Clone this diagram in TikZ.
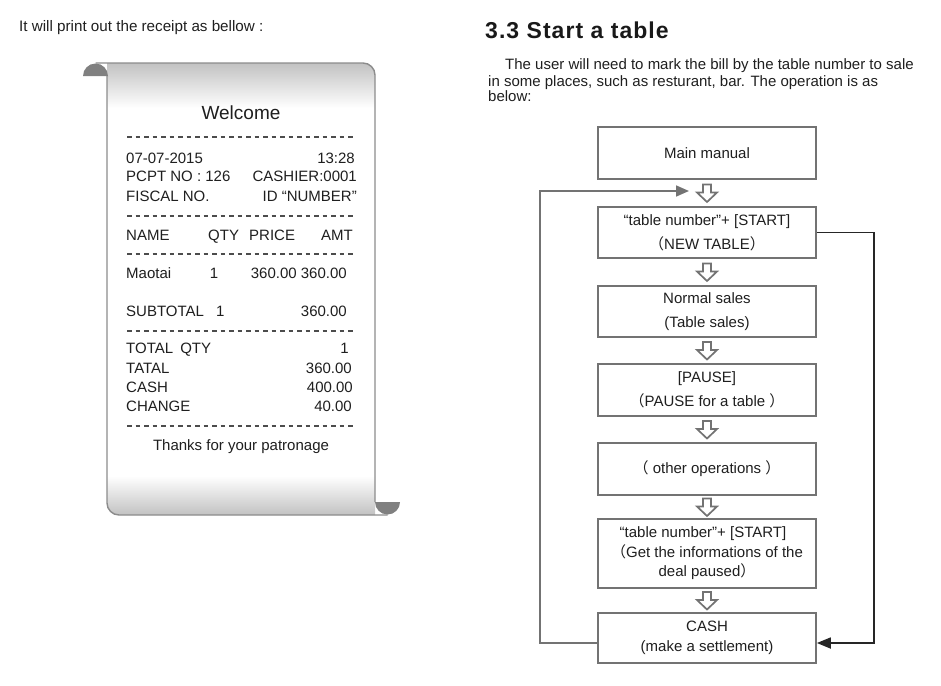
\documentclass[tikz,border=0pt]{standalone}
\usepackage{fontspec}
\setmainfont{Liberation Sans}
\newfontfamily\cjkfont{Noto Sans CJK SC}
\newfontfamily\titlefont[LetterSpace=4.5]{Liberation Sans}
\usetikzlibrary{calc,arrows.meta}
\newcommand{\lpar}{{\cjkfont （}}
\newcommand{\rpar}{{\cjkfont ）}}
\newcommand{\hollowDown}[2]{
    \draw[hollow arrow] ($(#1.south)!0.5!(#2.north)$) ++(-4,-8.5) -- ++(8,0) -- ++(0,8) -- ++(6,0) -- ++(-10,9.5) -- ++(-10,-9.5) -- ++(6,0) -- cycle;
}

\begin{document}
\begin{tikzpicture}[
    x=1pt, y=-1pt,
    % Estilos del recibo
    paper edge/.style={draw=black!45, line width=1.4pt},
    curl/.style={fill=black!50},
    cut line/.style={black!70, line width=1.1pt, dash pattern=on 4.6pt off 3.9pt},
    slip text/.style={font=\fontsize{15}{17}\selectfont, text=black!88, inner sep=0pt},
    page text/.style={font=\fontsize{15}{17}\selectfont, text=black!88, inner sep=0pt, anchor=base west},
    % Estilos del diagrama
    step box/.style={draw=black!55, line width=1.7pt, fill=white, minimum width=218pt, align=center,
        font=\fontsize{15}{24}\selectfont, text=black!88, inner sep=2pt},
    hollow arrow/.style={draw=black!55, line width=1.7pt, fill=white, line join=miter},
    back loop/.style={draw=black!55, line width=1.7pt, -{Triangle[length=13pt, width=11pt]}},
    jump line/.style={draw=black!85, line width=1.8pt, -{Triangle[length=14pt, width=11pt]}}
]
\useasboundingbox (0,0) rectangle (941,685);

% 1. Texto de la izquierda
\node[page text, font=\fontsize{15.2}{17}\selectfont] (intro) at (19,31.5) {It will print out the receipt as bellow :};

% 2. Papel del recibo
\begin{scope}
    \clip (107,63) -- (363,63) arc (-90:0:12) -- (375,515) -- (119,515) arc (90:180:12) -- cycle;
    \fill[white] (100,60) rectangle (380,520);
    \shade[top color=black!24, bottom color=white] (107,63) rectangle (375,108);
    \shade[top color=white, bottom color=black!24] (107,476) rectangle (375,515);
\end{scope}
\draw[paper edge] (95.5,63) -- (363,63) arc (-90:0:12) -- (375,502);
\draw[paper edge] (107,76) -- (107,503) arc (180:90:12) -- (387.5,515);
\fill[curl] (83,76) arc (180:360:12.5) -- cycle;
\fill[curl] (375,502) arc (180:0:12.5) -- cycle;

% 3. Lineas de corte
\foreach \yy in {137,216,254,331,426}{
    \draw[cut line] (127,\yy) -- (356,\yy);
}

% 4. Texto del recibo
\node[slip text, font=\fontsize{19}{21}\selectfont, anchor=base] (welcome) at (241,119) {Welcome};
\foreach \n/\yy/\lt/\rx/\rt in {
    date/163/07-07-2015/355/13:28,
    pcpt/181/PCPT NO : 126/357/CASHIER:0001,
    fiscal/201/FISCAL NO./357/ID “NUMBER”,
    name/240/NAME/353/AMT,
    item/278/Maotai/347/360.00 360.00,
    sub/316/SUBTOTAL/347/360.00,
    tqty/353/TOTAL\hspace{3pt} QTY/349/1,
    tatal/373/TATAL/352/360.00,
    cash/392/CASH/353/400.00,
    change/411/CHANGE/352/40.00
}{
    \node[slip text, anchor=base west] (\n l) at (126,\yy) {\lt};
    \node[slip text, anchor=base east] (\n r) at (\rx,\yy) {\rt};
}
\node[slip text, anchor=base west] (qtyhead) at (208,240) {QTY};
\node[slip text, anchor=base west] (pricehead) at (249,240) {PRICE};
\node[slip text, anchor=base] (itemqty) at (214,278) {1};
\node[slip text, anchor=base west] (subqty) at (216,316) {1};
\node[slip text, anchor=base] (thanks) at (241,450) {Thanks for your patronage};

% 5. Titulo y parrafo
\node[page text, font=\fontsize{23}{25}\selectfont\titlefont\bfseries, text=black!90] (title) at (485,38) {3.3 Start a table};
\node[page text] (par1) at (505,70) {The user will need to mark the bill by the table number to sale};
\node[page text] (par2) at (488,86) {in some places, such as resturant, bar. The operation is as};
\node[page text] (par3) at (488,101) {below:};

% 6. Cajas del diagrama
\node[step box, minimum height=52pt] (b1) at (707,153) {Main manual};
\node[step box, minimum height=51pt] (b2) at (707,232.5) {“table number”+ [START]\\\lpar NEW TABLE\rpar};
\node[step box, minimum height=51pt] (b3) at (707,311.5) {Normal sales\\(Table sales)};
\node[step box, minimum height=52pt] (b4) at (707,390) {[PAUSE]\\\lpar PAUSE for a table \rpar};
\node[step box, minimum height=52pt] (b5) at (707,469) {\lpar\ other operations \rpar};
\node[step box, minimum height=69pt, font=\fontsize{15}{19.5}\selectfont] (b6) at (707,553.5)
    {\hspace*{-8pt}“table number”+ [START]\\\lpar Get the informations of the\\deal paused\rpar};
\node[step box, minimum height=50pt, font=\fontsize{15}{20}\selectfont] (b7) at (707,638) {CASH\\(make a settlement)};

% 7. Flechas huecas entre cajas
\hollowDown{b1}{b2}
\hollowDown{b2}{b3}
\hollowDown{b3}{b4}
\hollowDown{b4}{b5}
\hollowDown{b5}{b6}
\hollowDown{b6}{b7}

% 8. Lazos de retorno
\coordinate (loopin) at (689,191);
\draw[back loop] ([yshift=-5pt]b7.west) -- ++(-57,0) |- (loopin);
\draw[jump line] (b2.east) -- ++(57,0) |- ([yshift=-5pt]b7.east);

\end{tikzpicture}
\end{document}
